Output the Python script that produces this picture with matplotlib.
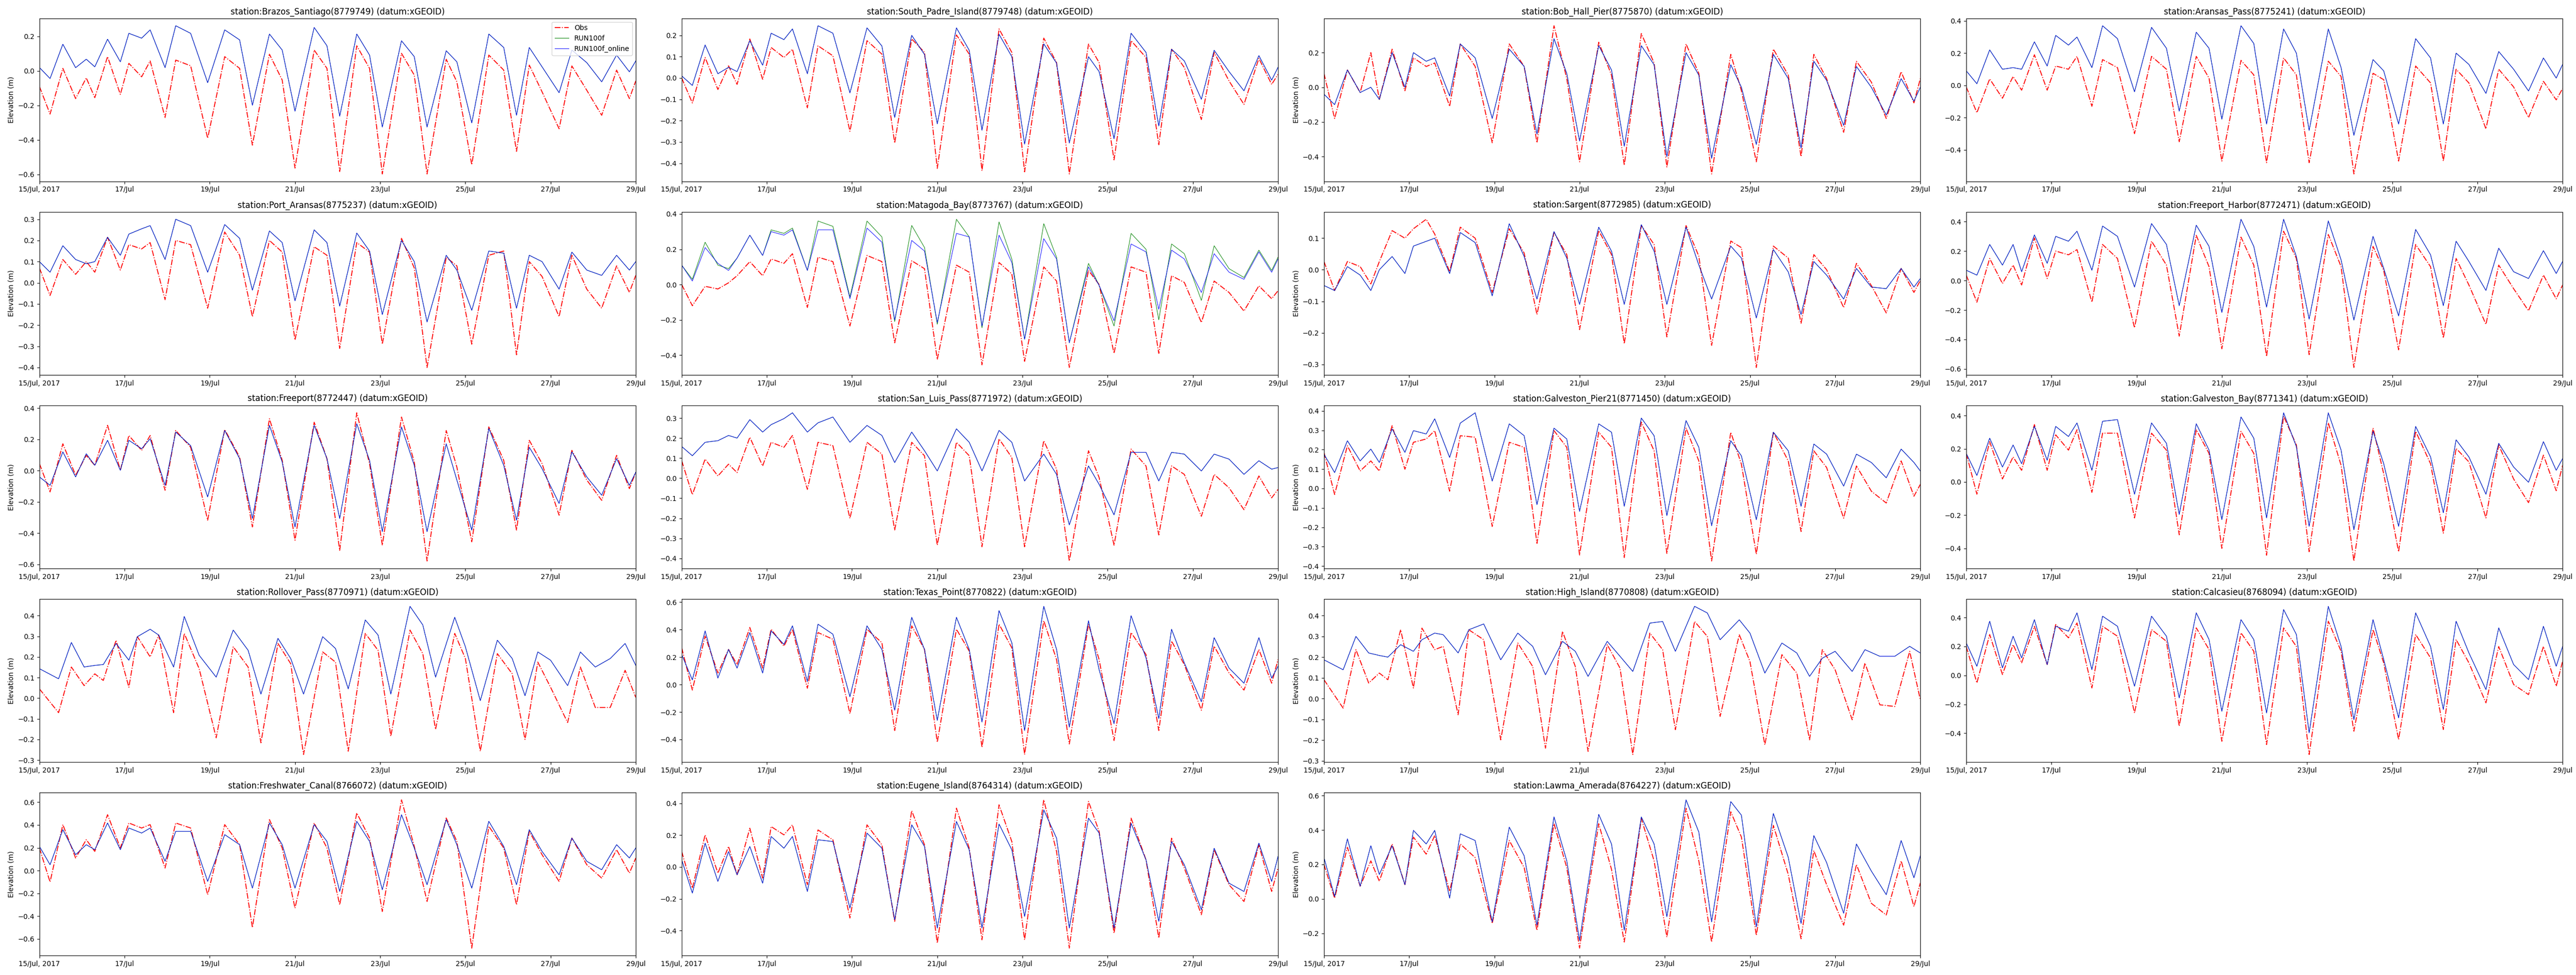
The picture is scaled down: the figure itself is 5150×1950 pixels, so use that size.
import datetime as dt
import numpy as np
import matplotlib
matplotlib.use("Agg")
import matplotlib.pyplot as plt

# sample times (days after 15 Jul 2017 00:00), read at the tidal turning points
days = [0, 0.25, 0.55, 0.85, 1.1, 1.3, 1.6, 1.9, 2.1, 2.4,
        2.6, 2.95, 3.2, 3.55, 3.95, 4.35, 4.7, 5.0, 5.4, 5.7,
        6.0, 6.45, 6.75, 7.05, 7.45, 7.75, 8.05, 8.5, 8.8, 9.1,
        9.55, 9.8, 10.15, 10.55, 10.9, 11.2, 11.5, 11.8, 12.2, 12.5,
        12.85, 13.2, 13.55, 13.85, 14]

tick_days = [0, 2, 4, 6, 8, 10, 12, 14]
tick_labels = ["15/Jul, 2017", "17/Jul", "19/Jul", "21/Jul", "23/Jul", "25/Jul", "27/Jul", "29/Jul"]

obs_brazos = [-0.09, -0.25, 0.015, -0.16, -0.04, -0.155, 0.083, -0.136, 0.044, -0.034,
              0.058, -0.27, 0.063, 0.03, -0.39, 0.083, 0.015, -0.43, 0.097, -0.053,
              -0.563, 0.121, 0.015, -0.583, 0.146, 0.015, -0.597, 0.102, -0.024, -0.597,
              0.068, -0.063, -0.544, 0.092, 0.005, -0.466, 0.034, -0.121, -0.335, 0.029,
              -0.112, -0.257, 0.005, -0.16, -0.058]
mod_brazos = [0.02, -0.044, 0.155, 0.019, 0.068, 0.024, 0.184, 0.053, 0.218, 0.19,
              0.238, 0.019, 0.262, 0.218, -0.068, 0.238, 0.18, -0.199, 0.214, 0.121,
              -0.233, 0.252, 0.146, -0.262, 0.214, 0.092, -0.325, 0.175, 0.083, -0.325,
              0.117, 0.053, -0.301, 0.214, 0.136, -0.257, 0.136, 0.024, -0.126, 0.121,
              0.048, -0.063, 0.092, -0.005, 0.058]

obs_padre = [0.0, -0.117, 0.096, -0.054, 0.057, -0.03, 0.183, -0.006, 0.143, 0.096,
             0.135, -0.14, 0.151, 0.104, -0.25, 0.175, 0.112, -0.305, 0.183, 0.12,
             -0.424, 0.202, 0.112, -0.435, 0.23, 0.12, -0.44, 0.187, 0.072, -0.45,
             0.159, 0.072, -0.384, 0.175, 0.096, -0.313, 0.135, 0.049, -0.195, 0.12,
             -0.014, -0.124, 0.092, -0.03, 0.017]
mod_padre = [0.01, -0.035, 0.155, 0.02, 0.05, 0.03, 0.175, 0.06, 0.21, 0.18,
             0.23, 0.02, 0.245, 0.21, -0.07, 0.235, 0.15, -0.185, 0.2, 0.11,
             -0.215, 0.235, 0.13, -0.245, 0.205, 0.1, -0.31, 0.16, 0.07, -0.305,
             0.1, 0.03, -0.285, 0.21, 0.12, -0.225, 0.135, 0.08, -0.1, 0.13,
             0.03, -0.06, 0.105, -0.01, 0.05]

obs_bobhall = [0.08, -0.18, 0.10, -0.03, 0.2, -0.07, 0.22, -0.02, 0.17, 0.12,
               0.14, -0.11, 0.25, 0.12, -0.32, 0.25, 0.12, -0.32, 0.355, 0.05,
               -0.43, 0.26, 0.07, -0.45, 0.31, 0.14, -0.46, 0.25, 0.08, -0.5,
               0.19, -0.02, -0.43, 0.22, 0.07, -0.40, 0.19, 0.05, -0.26, 0.15,
               0.03, -0.18, 0.09, -0.09, 0.05]
mod_bobhall = [-0.04, -0.1, 0.10, -0.03, 0.0, -0.07, 0.2, 0.0, 0.2, 0.15,
               0.17, -0.05, 0.25, 0.17, -0.18, 0.22, 0.12, -0.27, 0.28, 0.08,
               -0.31, 0.24, 0.1, -0.34, 0.24, 0.13, -0.40, 0.2, 0.07, -0.41,
               0.13, 0.0, -0.33, 0.19, 0.05, -0.35, 0.15, 0.04, -0.22, 0.12,
               0.0, -0.16, 0.05, -0.08, 0.0]

obs_aransas = [-0.01, -0.17, 0.04, -0.08, 0.055, -0.03, 0.19, -0.03, 0.12, 0.1,
               0.18, -0.13, 0.16, 0.11, -0.3, 0.18, 0.1, -0.35, 0.18, 0.045,
               -0.47, 0.155, 0.065, -0.48, 0.17, 0.065, -0.48, 0.15, 0.055, -0.55,
               0.075, 0.035, -0.47, 0.12, 0.015, -0.47, 0.1, 0.015, -0.27, 0.1,
               -0.01, -0.2, 0.025, -0.09, -0.02]
mod_aransas = [0.09, 0.01, 0.22, 0.1, 0.11, 0.1, 0.27, 0.12, 0.31, 0.25,
               0.3, 0.11, 0.37, 0.29, -0.04, 0.36, 0.23, -0.16, 0.33, 0.23,
               -0.21, 0.37, 0.26, -0.24, 0.35, 0.2, -0.28, 0.35, 0.11, -0.31,
               0.16, 0.09, -0.24, 0.29, 0.17, -0.24, 0.2, 0.13, -0.05, 0.21,
               0.1, -0.035, 0.17, 0.045, 0.13]

obs_portaransas = [0.07, -0.06, 0.11, 0.04, 0.1, 0.05, 0.215, 0.06, 0.18, 0.16,
                   0.19, -0.08, 0.2, 0.18, -0.12, 0.24, 0.13, -0.16, 0.2, 0.145,
                   -0.27, 0.17, 0.13, -0.31, 0.19, 0.145, -0.29, 0.21, 0.07, -0.4,
                   0.12, 0.08, -0.29, 0.13, 0.15, -0.34, 0.1, 0.03, -0.16, 0.13,
                   -0.03, -0.12, 0.08, -0.045, 0.035]
mod_portaransas = [0.1, 0.05, 0.175, 0.11, 0.09, 0.1, 0.215, 0.13, 0.23, 0.255,
                   0.27, 0.11, 0.3, 0.27, 0.05, 0.275, 0.21, -0.035, 0.245, 0.19,
                   -0.085, 0.25, 0.19, -0.11, 0.235, 0.15, -0.15, 0.2, 0.1, -0.185,
                   0.13, 0.06, -0.13, 0.15, 0.14, -0.12, 0.13, 0.1, -0.03, 0.145,
                   0.06, 0.035, 0.13, 0.06, 0.1]

obs_matagorda = [0.0, -0.12, -0.01, -0.025, 0.01, 0.05, 0.13, 0.05, 0.145, 0.12,
                 0.175, -0.13, 0.155, 0.13, -0.235, 0.165, 0.13, -0.33, 0.135, 0.09,
                 -0.425, 0.11, 0.07, -0.455, 0.125, 0.06, -0.435, 0.1, 0.02, -0.47,
                 0.08, 0.0, -0.39, 0.1, 0.07, -0.39, 0.05, 0.012, -0.215, 0.02,
                 -0.045, -0.15, -0.007, -0.08, -0.035]
mod_matagorda = [0.11, 0.02, 0.21, 0.12, 0.08, 0.15, 0.28, 0.165, 0.3, 0.28,
                 0.31, 0.08, 0.31, 0.31, -0.08, 0.32, 0.24, -0.2, 0.25, 0.19,
                 -0.215, 0.29, 0.27, -0.235, 0.28, 0.125, -0.31, 0.26, 0.145, -0.33,
                 0.1, -0.005, -0.205, 0.23, 0.185, -0.14, 0.195, 0.145, -0.045, 0.175,
                 0.07, 0.03, 0.185, 0.07, 0.145]
run100f_matagorda = [0.11, 0.03, 0.24, 0.11, 0.09, 0.15, 0.28, 0.165, 0.31, 0.29,
                     0.32, 0.08, 0.36, 0.33, -0.07, 0.36, 0.27, -0.21, 0.335, 0.21,
                     -0.225, 0.37, 0.27, -0.245, 0.355, 0.145, -0.31, 0.345, 0.155, -0.33,
                     0.12, -0.005, -0.235, 0.29, 0.2, -0.2, 0.23, 0.175, -0.09, 0.22,
                     0.09, 0.04, 0.195, 0.08, 0.155]

obs_sargent = [0.026, -0.066, 0.026, 0.01, -0.045, 0.026, 0.124, 0.1, 0.13, 0.16,
               0.113, -0.006, 0.135, 0.1, -0.072, 0.13, 0.053, -0.142, 0.118, 0.048,
               -0.19, 0.124, 0.048, -0.235, 0.14, 0.08, -0.213, 0.14, 0.043, -0.24,
               0.091, 0.07, -0.31, 0.075, 0.037, -0.17, 0.048, 0.0, -0.12, 0.02,
               -0.05, -0.137, 0.004, -0.072, -0.034]
mod_sargent = [-0.05, -0.066, 0.01, -0.017, -0.066, 0.0, 0.042, -0.012, 0.075, 0.09,
               0.1, -0.012, 0.118, 0.086, -0.083, 0.146, 0.042, -0.093, 0.121, 0.037,
               -0.11, 0.135, 0.059, -0.11, 0.143, 0.059, -0.11, 0.135, 0.015, -0.093,
               0.075, 0.037, -0.153, 0.064, -0.007, -0.142, 0.026, -0.017, -0.093, 0.004,
               -0.055, -0.06, 0.004, -0.055, -0.028]

obs_fharbor = [0.037, -0.147, 0.15, -0.02, 0.105, -0.03, 0.29, 0.014, 0.2, 0.175,
               0.21, -0.147, 0.245, 0.15, -0.32, 0.267, 0.105, -0.377, 0.307, 0.094,
               -0.463, 0.295, 0.105, -0.515, 0.335, 0.15, -0.503, 0.313, 0.094, -0.59,
               0.232, 0.07, -0.47, 0.245, 0.094, -0.39, 0.15, -0.03, -0.297, 0.105,
               -0.055, -0.205, 0.037, -0.124, -0.03]
mod_fharbor = [0.07, 0.037, 0.245, 0.105, 0.245, 0.06, 0.31, 0.117, 0.3, 0.267,
               0.335, 0.07, 0.37, 0.3, -0.044, 0.387, 0.245, -0.17, 0.376, 0.232,
               -0.216, 0.416, 0.232, -0.18, 0.416, 0.163, -0.262, 0.405, 0.14, -0.268,
               0.3, 0.083, -0.24, 0.347, 0.175, -0.17, 0.267, 0.13, -0.067, 0.22,
               0.06, 0.014, 0.203, 0.048, 0.13]

obs_freeport = [0.045, -0.136, 0.172, -0.03, 0.098, 0.034, 0.29, 0.002, 0.225, 0.13,
                0.225, -0.126, 0.257, 0.15, -0.317, 0.263, 0.087, -0.36, 0.332, 0.066,
                -0.445, 0.31, 0.077, -0.51, 0.37, 0.045, -0.477, 0.343, 0.055, -0.578,
                0.257, 0.023, -0.455, 0.28, 0.066, -0.38, 0.194, 0.045, -0.285, 0.13,
                -0.06, -0.19, 0.098, -0.115, -0.01]
mod_freeport = [-0.04, -0.094, 0.12, -0.04, 0.108, 0.034, 0.194, 0.002, 0.194, 0.14,
                0.204, -0.094, 0.247, 0.16, -0.168, 0.257, 0.077, -0.306, 0.29, 0.055,
                -0.36, 0.29, 0.077, -0.306, 0.3, 0.066, -0.39, 0.28, 0.034, -0.39,
                0.172, -0.06, -0.38, 0.27, 0.034, -0.317, 0.15, 0.013, -0.21, 0.12,
                -0.04, -0.157, 0.077, -0.094, -0.01]

obs_sanluis = [0.087, -0.082, 0.095, 0.011, 0.07, 0.028, 0.204, 0.061, 0.179, 0.154,
               0.213, -0.056, 0.179, 0.162, -0.2, 0.179, 0.12, -0.258, 0.179, 0.112,
               -0.334, 0.179, 0.112, -0.342, 0.196, 0.103, -0.342, 0.187, 0.045, -0.413,
               0.137, 0.003, -0.334, 0.145, 0.061, -0.283, 0.061, 0.019, -0.19, 0.019,
               -0.048, -0.157, 0.011, -0.098, -0.056]
mod_sanluis = [0.158, 0.112, 0.179, 0.187, 0.213, 0.2, 0.292, 0.23, 0.267, 0.297,
               0.326, 0.23, 0.276, 0.305, 0.179, 0.263, 0.213, 0.078, 0.23, 0.137,
               0.036, 0.246, 0.179, 0.036, 0.238, 0.179, -0.014, 0.12, 0.019, -0.233,
               0.061, -0.031, -0.183, 0.129, 0.129, -0.014, 0.129, 0.12, 0.036, 0.12,
               0.095, 0.019, 0.087, 0.045, 0.053]

obs_pier21 = [0.186, -0.031, 0.22, 0.09, 0.142, 0.09, 0.324, 0.099, 0.238, 0.255,
              0.298, -0.014, 0.272, 0.264, -0.196, 0.238, 0.212, -0.283, 0.298, 0.212,
              -0.343, 0.29, 0.212, -0.356, 0.342, 0.194, -0.335, 0.311, 0.142, -0.374,
              0.29, 0.125, -0.339, 0.29, 0.142, -0.222, 0.194, 0.108, -0.153, 0.116,
              -0.014, -0.075, 0.142, -0.04, 0.021]
mod_pier21 = [0.177, 0.082, 0.246, 0.142, 0.203, 0.134, 0.307, 0.186, 0.298, 0.281,
              0.359, 0.16, 0.337, 0.39, 0.038, 0.333, 0.272, -0.083, 0.311, 0.255,
              -0.118, 0.333, 0.29, -0.092, 0.363, 0.272, -0.14, 0.35, 0.212, -0.192,
              0.246, 0.168, -0.161, 0.29, 0.194, -0.092, 0.229, 0.177, 0.012, 0.177,
              0.134, 0.055, 0.203, 0.134, 0.09]

obs_gbay = [0.172, -0.074, 0.243, 0.018, 0.151, 0.07, 0.346, 0.07, 0.284, 0.192,
            0.315, -0.063, 0.294, 0.294, -0.217, 0.294, 0.192, -0.319, 0.315, 0.172,
            -0.401, 0.305, 0.172, -0.442, 0.397, 0.223, -0.421, 0.356, 0.1, -0.477,
            0.325, 0.049, -0.421, 0.305, 0.11, -0.309, 0.202, 0.121, -0.217, 0.223,
            0.018, -0.125, 0.162, -0.053, 0.1]
mod_gbay = [0.172, 0.039, 0.264, 0.09, 0.223, 0.11, 0.335, 0.131, 0.335, 0.274,
            0.356, 0.07, 0.366, 0.376, -0.074, 0.356, 0.233, -0.196, 0.351, 0.192,
            -0.227, 0.392, 0.264, -0.217, 0.417, 0.213, -0.268, 0.417, 0.192, -0.288,
            0.305, 0.11, -0.268, 0.335, 0.151, -0.186, 0.254, 0.151, -0.074, 0.233,
            0.09, -0.002, 0.243, 0.07, 0.141]

obs_rollover = [0.045, -0.07, 0.151, 0.061, 0.118, 0.086, 0.281, 0.053, 0.298, 0.2,
                0.306, -0.07, 0.314, 0.143, -0.192, 0.249, 0.151, -0.216, 0.265, 0.167,
                -0.273, 0.224, 0.175, -0.257, 0.314, 0.232, -0.184, 0.33, 0.216, -0.151,
                0.314, 0.192, -0.257, 0.216, 0.118, -0.2, 0.175, 0.053, -0.118, 0.151,
                -0.045, -0.045, 0.135, 0.004, 0.004]
mod_rollover = [0.143, 0.094, 0.27, 0.151, 0.159, 0.163, 0.265, 0.184, 0.298, 0.334,
                0.306, 0.151, 0.396, 0.208, 0.102, 0.33, 0.232, 0.02, 0.29, 0.192,
                0.02, 0.298, 0.241, 0.045, 0.379, 0.306, 0.02, 0.445, 0.355, 0.102,
                0.392, 0.249, -0.012, 0.281, 0.192, 0.012, 0.224, 0.184, 0.061, 0.224,
                0.151, 0.192, 0.265, 0.159, 0.159]

obs_texaspt = [0.268, -0.04, 0.354, 0.084, 0.256, 0.145, 0.416, 0.12, 0.403, 0.28,
               0.403, -0.027, 0.379, 0.33, -0.212, 0.403, 0.305, -0.335, 0.428, 0.256,
               -0.421, 0.403, 0.244, -0.458, 0.44, 0.268, -0.51, 0.465, 0.182, -0.433,
               0.44, 0.182, -0.408, 0.379, 0.219, -0.335, 0.317, 0.145, -0.187, 0.28,
               0.084, -0.04, 0.256, 0.01, 0.182]
mod_texaspt = [0.219, 0.034, 0.391, 0.047, 0.256, 0.12, 0.379, 0.084, 0.391, 0.293,
               0.428, 0.022, 0.44, 0.367, -0.089, 0.428, 0.256, -0.187, 0.49, 0.256,
               -0.261, 0.49, 0.256, -0.273, 0.539, 0.305, -0.335, 0.57, 0.256, -0.31,
               0.465, 0.108, -0.285, 0.502, 0.194, -0.248, 0.403, 0.157, -0.125, 0.342,
               0.12, 0.01, 0.342, 0.047, 0.133]

obs_highisland = [0.091, -0.046, 0.236, 0.075, 0.123, 0.091, 0.332, 0.051, 0.34, 0.236,
                  0.252, -0.078, 0.332, 0.284, -0.199, 0.268, 0.155, -0.239, 0.324, 0.155,
                  -0.255, 0.26, 0.147, -0.27, 0.316, 0.236, -0.15, 0.372, 0.3, -0.086,
                  0.308, 0.179, -0.223, 0.212, 0.123, -0.199, 0.236, 0.139, -0.102, 0.171,
                  -0.03, -0.038, 0.228, -0.006, -0.006]
mod_highisland = [0.187, 0.139, 0.3, 0.22, 0.208, 0.2, 0.26, 0.228, 0.284, 0.316,
                  0.308, 0.22, 0.332, 0.36, 0.187, 0.316, 0.252, 0.115, 0.276, 0.228,
                  0.107, 0.276, 0.204, 0.131, 0.364, 0.372, 0.228, 0.445, 0.413, 0.284,
                  0.38, 0.316, 0.123, 0.268, 0.22, 0.107, 0.195, 0.228, 0.131, 0.236,
                  0.204, 0.204, 0.252, 0.22, 0.22]

obs_calcasieu = [0.2, -0.052, 0.283, 0.006, 0.213, 0.087, 0.34, 0.075, 0.352, 0.26,
                 0.363, -0.087, 0.34, 0.271, -0.26, 0.317, 0.236, -0.352, 0.329, 0.179,
                 -0.456, 0.294, 0.167, -0.479, 0.329, 0.2, -0.548, 0.375, 0.167, -0.386,
                 0.317, 0.087, -0.444, 0.283, 0.121, -0.375, 0.248, 0.087, -0.19, 0.2,
                 -0.063, -0.133, 0.2, -0.075, 0.098]
mod_calcasieu = [0.225, 0.063, 0.375, 0.052, 0.271, 0.121, 0.386, 0.075, 0.34, 0.306,
                 0.433, 0.04, 0.41, 0.34, -0.075, 0.41, 0.271, -0.156, 0.433, 0.248,
                 -0.248, 0.386, 0.248, -0.26, 0.456, 0.283, -0.398, 0.478, 0.2, -0.306,
                 0.386, 0.11, -0.294, 0.433, 0.2, -0.236, 0.375, 0.156, -0.098, 0.329,
                 0.075, -0.029, 0.34, 0.063, 0.2]

obs_freshwater = [0.198, -0.1, 0.403, 0.11, 0.271, 0.168, 0.49, 0.198, 0.417, 0.373,
                  0.403, 0.022, 0.417, 0.373, -0.212, 0.403, 0.227, -0.5, 0.447, 0.198,
                  -0.329, 0.417, 0.198, -0.3, 0.505, 0.285, -0.359, 0.62, 0.212, -0.271,
                  0.461, 0.256, -0.68, 0.388, 0.198, -0.3, 0.344, 0.139, -0.095, 0.285,
                  0.051, -0.066, 0.183, -0.022, 0.11]
mod_freshwater = [0.212, 0.051, 0.359, 0.139, 0.227, 0.183, 0.417, 0.183, 0.373, 0.329,
                  0.373, 0.081, 0.344, 0.344, -0.095, 0.315, 0.227, -0.154, 0.417, 0.227,
                  -0.154, 0.403, 0.256, -0.183, 0.432, 0.256, -0.168, 0.49, 0.198, -0.124,
                  0.447, 0.227, -0.154, 0.432, 0.212, -0.124, 0.359, 0.168, -0.037, 0.285,
                  0.081, 0.007, 0.227, 0.11, 0.198]

obs_eugene = [0.097, -0.133, 0.202, -0.039, 0.129, -0.049, 0.244, -0.07, 0.254, 0.202,
              0.265, -0.112, 0.233, 0.171, -0.321, 0.265, 0.139, -0.342, 0.354, 0.139,
              -0.479, 0.37, 0.118, -0.458, 0.391, 0.16, -0.458, 0.422, 0.097, -0.51,
              0.412, 0.223, -0.416, 0.307, 0.045, -0.447, 0.181, -0.007, -0.3, 0.108,
              -0.112, -0.217, 0.139, -0.154, -0.007]
mod_eugene = [0.045, -0.164, 0.15, -0.091, 0.097, -0.049, 0.129, -0.102, 0.192, 0.118,
              0.192, -0.154, 0.171, 0.16, -0.259, 0.213, 0.118, -0.332, 0.265, 0.129,
              -0.384, 0.286, 0.108, -0.384, 0.27, 0.108, -0.311, 0.359, 0.181, -0.384,
              0.307, 0.213, -0.384, 0.275, 0.045, -0.342, 0.16, 0.014, -0.269, 0.118,
              -0.102, -0.154, 0.15, -0.091, 0.066]

obs_lawma = [0.2, 0.005, 0.3, 0.074, 0.221, 0.103, 0.319, 0.083, 0.359, 0.26,
             0.368, 0.044, 0.319, 0.24, -0.142, 0.339, 0.182, -0.182, 0.437, 0.182,
             -0.285, 0.437, 0.172, -0.25, 0.467, 0.221, -0.221, 0.526, 0.221, -0.25,
             0.506, 0.359, -0.211, 0.427, 0.142, -0.231, 0.28, 0.083, -0.152, 0.2,
             -0.025, -0.093, 0.221, -0.044, 0.093]
mod_lawma = [0.24, 0.015, 0.349, 0.074, 0.309, 0.142, 0.309, 0.083, 0.398, 0.319,
             0.398, 0.005, 0.378, 0.339, -0.133, 0.417, 0.25, -0.152, 0.476, 0.221,
             -0.241, 0.491, 0.319, -0.182, 0.476, 0.319, -0.103, 0.575, 0.388, -0.133,
             0.565, 0.486, -0.162, 0.496, 0.241, -0.142, 0.368, 0.211, -0.083, 0.319,
             0.162, 0.025, 0.339, 0.123, 0.25]

# (station, obs, RUN100f_online, RUN100f or None when same as online, phase lag in days)
panels = [
    ("Brazos_Santiago(8779749)", obs_brazos, mod_brazos, None, 0.0),
    ("South_Padre_Island(8779748)", obs_padre, mod_padre, None, 0.0),
    ("Bob_Hall_Pier(8775870)", obs_bobhall, mod_bobhall, None, 0.0),
    ("Aransas_Pass(8775241)", obs_aransas, mod_aransas, None, 0.0),
    ("Port_Aransas(8775237)", obs_portaransas, mod_portaransas, None, 0.0),
    ("Matagoda_Bay(8773767)", obs_matagorda, mod_matagorda, run100f_matagorda, 0.0),
    ("Sargent(8772985)", obs_sargent, mod_sargent, None, 0.0),
    ("Freeport_Harbor(8772471)", obs_fharbor, mod_fharbor, None, 0.0),
    ("Freeport(8772447)", obs_freeport, mod_freeport, None, 0.0),
    ("San_Luis_Pass(8771972)", obs_sanluis, mod_sanluis, None, 0.0),
    ("Galveston_Pier21(8771450)", obs_pier21, mod_pier21, None, 0.0),
    ("Galveston_Bay(8771341)", obs_gbay, mod_gbay, None, 0.0),
    ("Rollover_Pass(8770971)", obs_rollover, mod_rollover, None, 0.2),
    ("Texas_Point(8770822)", obs_texaspt, mod_texaspt, None, 0.0),
    ("High_Island(8770808)", obs_highisland, mod_highisland, None, 0.2),
    ("Calcasieu(8768094)", obs_calcasieu, mod_calcasieu, None, 0.0),
    ("Freshwater_Canal(8766072)", obs_freshwater, mod_freshwater, None, 0.0),
    ("Eugene_Island(8764314)", obs_eugene, mod_eugene, None, 0.0),
    ("Lawma_Amerada(8764227)", obs_lawma, mod_lawma, None, 0.0),
]

start = dt.datetime(2017, 7, 15)


def to_dates(t_days, lag=0.0):
    t = np.clip(np.asarray(t_days, dtype=float) + lag, 0, 14)
    t[0], t[-1] = 0, 14
    return [start + dt.timedelta(days=float(x)) for x in t]


fig, axes = plt.subplots(5, 4, figsize=(51.5, 19.5), dpi=100)
fig.subplots_adjust(left=0.0153, right=0.9948, top=0.9812, bottom=0.02,
                    wspace=0.077, hspace=0.187)

ticks = to_dates(tick_days)

for i, ax in enumerate(axes.flat):
    if i >= len(panels):
        ax.remove()
        continue
    name, obs, online, run100f, lag = panels[i]
    x = to_dates(days, lag)
    ax.plot(x, obs, color="red", linestyle="-.", linewidth=1.3, label="Obs")
    ax.plot(x, run100f if run100f is not None else online, color="green",
            linewidth=0.7, label="RUN100f")
    ax.plot(x, online, color="blue", linewidth=0.7, label="RUN100f_online")
    ax.set_xlim(ticks[0], ticks[-1])
    ax.set_xticks(ticks)
    ax.set_xticklabels(tick_labels)
    ax.set_title(f"station:{name} (datum:xGEOID)")
    if i % 4 in (0, 2):
        ax.set_ylabel("Elevation (m)")
    if i == 0:
        ax.legend(loc="upper right")

fig.savefig("out.png", dpi=100)
